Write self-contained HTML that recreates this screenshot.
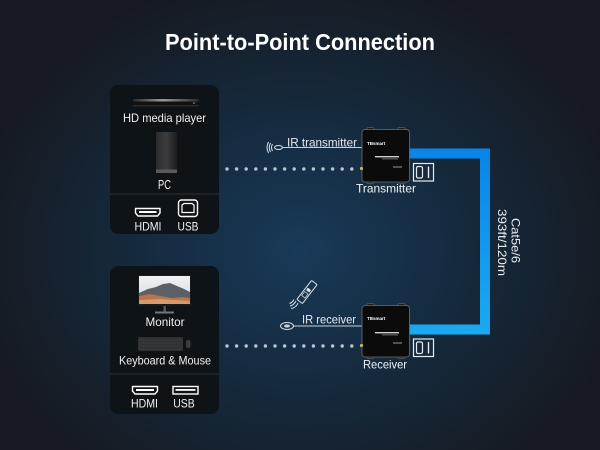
<!DOCTYPE html>
<html><head><meta charset="utf-8"><style>
html,body{margin:0;padding:0;background:#161a20;}
svg{display:block;}
text{font-family:"Liberation Sans",sans-serif;}
</style></head><body>
<svg width="600" height="450" viewBox="0 0 600 450" xmlns="http://www.w3.org/2000/svg">
<defs>
<radialGradient id="bg" cx="300" cy="250" r="330" gradientUnits="userSpaceOnUse" gradientTransform="translate(300 250) scale(1 0.85) translate(-300 -250)">
<stop offset="0" stop-color="#183a58"/>
<stop offset="0.45" stop-color="#152b40"/>
<stop offset="1" stop-color="#161a20"/>
</radialGradient>
<linearGradient id="cab" x1="0" y1="148" x2="0" y2="335" gradientUnits="userSpaceOnUse">
<stop offset="0" stop-color="#0a84e8"/>
<stop offset="1" stop-color="#1aaaf0"/>
</linearGradient>
<linearGradient id="player" x1="0" y1="0" x2="1" y2="0">
<stop offset="0" stop-color="#2a2a2a"/>
<stop offset="0.45" stop-color="#9a9a9a"/>
<stop offset="1" stop-color="#2a2a2a"/>
</linearGradient>
<linearGradient id="pc" x1="0" y1="0" x2="1" y2="0">
<stop offset="0" stop-color="#2c2c2e"/>
<stop offset="0.5" stop-color="#3c3c3e"/>
<stop offset="1" stop-color="#1c1c1e"/>
</linearGradient>
<linearGradient id="sky" x1="0" y1="0" x2="0" y2="1">
<stop offset="0" stop-color="#eef2f5"/>
<stop offset="1" stop-color="#d3dbe0"/>
</linearGradient>
</defs>
<rect width="600" height="450" fill="url(#bg)"/>

<!-- Title -->
<text x="300" y="50" text-anchor="middle" font-size="23.5" font-weight="bold" fill="#ffffff" textLength="270" lengthAdjust="spacingAndGlyphs">Point-to-Point Connection</text>

<!-- Top panel -->
<rect x="110" y="85" width="109" height="149" rx="8" fill="#0e1318"/>
<line x1="110" y1="194" x2="219" y2="194" stroke="#2a3038" stroke-width="1"/>
<!-- HD player -->
<rect x="133" y="99" width="66" height="8" rx="1" fill="#111"/>
<rect x="133" y="99" width="66" height="2.5" fill="url(#player)"/>
<rect x="133" y="105" width="66" height="1.5" fill="#2a2a2a"/>
<circle cx="194" cy="103" r="0.8" fill="#aaa"/>
<text x="164.5" y="122" text-anchor="middle" font-size="12" fill="#f0f0f0" textLength="83" lengthAdjust="spacingAndGlyphs">HD media player</text>
<!-- PC tower -->
<rect x="156" y="132" width="21" height="41" rx="1" fill="url(#pc)"/>
<rect x="156" y="169.5" width="21" height="3.5" fill="#5a5a5c"/>
<text x="164.5" y="189" text-anchor="middle" font-size="12.5" fill="#f0f0f0" textLength="13" lengthAdjust="spacingAndGlyphs">PC</text>
<!-- HDMI icon top -->
<path d="M135.5 208.5 H160 V213 L157.5 216 H138 L135.5 213 Z" fill="none" stroke="#fff" stroke-width="1.4" stroke-linejoin="round"/>
<rect x="139" y="211" width="17.5" height="2" fill="#fff"/>
<!-- USB-B icon -->
<rect x="178.5" y="200" width="19" height="16.5" rx="3" fill="none" stroke="#fff" stroke-width="1.4"/>
<path d="M182 205 L184 203.5 H192 L194 205 V212.5 H182 Z" fill="none" stroke="#fff" stroke-width="1.2"/>
<text x="148" y="230.5" text-anchor="middle" font-size="12" fill="#f0f0f0" textLength="27" lengthAdjust="spacingAndGlyphs">HDMI</text>
<text x="188" y="230.5" text-anchor="middle" font-size="12" fill="#f0f0f0" textLength="21" lengthAdjust="spacingAndGlyphs">USB</text>

<!-- Bottom panel -->
<rect x="110" y="266" width="109" height="148" rx="8" fill="#0e1318"/>
<line x1="110" y1="374" x2="219" y2="374" stroke="#2a3038" stroke-width="1"/>
<!-- Monitor -->
<rect x="138" y="275" width="53" height="31" fill="#1a1a1a"/>
<rect x="139" y="276" width="51" height="28" fill="url(#sky)"/>
<path d="M139 293 L148 289 L156 287 L163 284 L170 283 L177 286 L184 289 L190 292 V304 H139 Z" fill="#5c5f66"/>
<path d="M139 296 L150 294 L160 296 L172 298 L182 297 L190 298 V304 H139 Z" fill="#b8744a"/>
<path d="M139 300 L160 299 L190 301 V304 H139 Z" fill="#d59b6e"/>
<rect x="163.5" y="306" width="2.5" height="6" fill="#555"/>
<rect x="155" y="311.5" width="19" height="2" fill="#777"/>
<text x="165" y="326" text-anchor="middle" font-size="12" fill="#f0f0f0" textLength="39" lengthAdjust="spacingAndGlyphs">Monitor</text>
<!-- Keyboard -->
<rect x="138" y="337" width="45" height="14" rx="1.5" fill="#2e3034"/>
<g stroke="#55585e" stroke-width="0.6">
<line x1="139" y1="340" x2="182" y2="340" stroke-dasharray="1.2 0.8"/>
<line x1="139" y1="343" x2="182" y2="343" stroke-dasharray="1.2 0.8"/>
<line x1="139" y1="346" x2="182" y2="346" stroke-dasharray="1.2 0.8"/>
<line x1="139" y1="349" x2="182" y2="349" stroke-dasharray="1.2 0.8"/>
</g>
<rect x="186" y="340" width="4.5" height="8" rx="2" fill="#3a3c40"/>
<text x="165" y="364.5" text-anchor="middle" font-size="12" fill="#f0f0f0" textLength="92" lengthAdjust="spacingAndGlyphs">Keyboard &amp; Mouse</text>
<!-- HDMI bottom -->
<path d="M132.5 386.5 H157.5 V391 L155 394 H135 L132.5 391 Z" fill="none" stroke="#fff" stroke-width="1.4" stroke-linejoin="round"/>
<rect x="136" y="389" width="18" height="2" fill="#fff"/>
<!-- USB-A -->
<rect x="173" y="386.5" width="25" height="7.5" fill="none" stroke="#fff" stroke-width="1.4"/>
<rect x="175.5" y="389" width="20" height="1.8" fill="#fff"/>
<text x="144.5" y="407.5" text-anchor="middle" font-size="12" fill="#f0f0f0" textLength="27" lengthAdjust="spacingAndGlyphs">HDMI</text>
<text x="184" y="407.5" text-anchor="middle" font-size="12" fill="#f0f0f0" textLength="21.5" lengthAdjust="spacingAndGlyphs">USB</text>

<!-- Blue cable -->
<path d="M409 153.5 H485 V329.5 H409" fill="none" stroke="url(#cab)" stroke-width="10" stroke-linejoin="miter"/>
<text transform="translate(511.5 240.5) rotate(90)" text-anchor="middle" font-size="12" fill="#e8ecf0" textLength="45" lengthAdjust="spacingAndGlyphs">Cat5e/6</text>
<text transform="translate(498 242.5) rotate(90)" text-anchor="middle" font-size="12" fill="#e8ecf0" textLength="67" lengthAdjust="spacingAndGlyphs">393ft/120m</text>

<!-- Dotted lines -->
<g fill="#b9c4cf">
<circle cx="227" cy="169" r="1.7"/><circle cx="236.6" cy="169" r="1.7"/><circle cx="246.2" cy="169" r="1.7"/><circle cx="255.8" cy="169" r="1.7"/><circle cx="265.4" cy="169" r="1.7"/><circle cx="275" cy="169" r="1.7"/><circle cx="284.6" cy="169" r="1.7"/><circle cx="294.2" cy="169" r="1.7"/><circle cx="303.8" cy="169" r="1.7"/><circle cx="313.4" cy="169" r="1.7"/><circle cx="323" cy="169" r="1.7"/><circle cx="332.6" cy="169" r="1.7"/><circle cx="342.2" cy="169" r="1.7"/><circle cx="351.8" cy="169" r="1.7"/>
<circle cx="227" cy="346" r="1.7"/><circle cx="236.6" cy="346" r="1.7"/><circle cx="246.2" cy="346" r="1.7"/><circle cx="255.8" cy="346" r="1.7"/><circle cx="265.4" cy="346" r="1.7"/><circle cx="275" cy="346" r="1.7"/><circle cx="284.6" cy="346" r="1.7"/><circle cx="294.2" cy="346" r="1.7"/><circle cx="303.8" cy="346" r="1.7"/><circle cx="313.4" cy="346" r="1.7"/><circle cx="323" cy="346" r="1.7"/><circle cx="332.6" cy="346" r="1.7"/><circle cx="342.2" cy="346" r="1.7"/><circle cx="351.8" cy="346" r="1.7"/>
</g>

<!-- IR transmitter -->
<line x1="283" y1="147.5" x2="362" y2="147.5" stroke="#c8d0d8" stroke-width="1"/>
<ellipse cx="278.5" cy="147.5" rx="4" ry="2" fill="none" stroke="#d8dee4" stroke-width="1"/>
<path d="M272.5 144 Q270.5 147.5 272.5 151" fill="none" stroke="#e0e4e8" stroke-width="1"/>
<path d="M270.5 143 Q268 147.5 270.5 152" fill="none" stroke="#e0e4e8" stroke-width="1"/>
<path d="M268.5 142 Q265.5 147.5 268.5 153" fill="none" stroke="#e0e4e8" stroke-width="1"/>
<text x="322" y="146.5" text-anchor="middle" font-size="12" fill="#e6eaee" textLength="70" lengthAdjust="spacingAndGlyphs">IR transmitter</text>

<!-- IR receiver -->
<line x1="294" y1="326" x2="362" y2="326" stroke="#c8d0d8" stroke-width="1"/>
<ellipse cx="287" cy="326" rx="6.5" ry="3.5" fill="none" stroke="#d8dee4" stroke-width="1"/>
<ellipse cx="287" cy="326" rx="3" ry="1.6" fill="#c8d0d8"/>
<!-- remote -->
<g transform="translate(307 292) rotate(-52)">
<rect x="-12" y="-3.5" width="24" height="7" rx="1" fill="none" stroke="#dfe4e8" stroke-width="1"/>
<rect x="-6" y="-2" width="5" height="4" fill="none" stroke="#dfe4e8" stroke-width="0.7"/>
<rect x="1" y="-2" width="3" height="4" fill="#dfe4e8"/>
</g>
<path d="M296 301 Q294 305 290 306" fill="none" stroke="#e0e4e8" stroke-width="1"/>
<path d="M298 303 Q296 308 291 308.5" fill="none" stroke="#e0e4e8" stroke-width="1"/>
<path d="M294 299.5 Q292.5 302.5 289.5 303.5" fill="none" stroke="#e0e4e8" stroke-width="1"/>
<text x="329" y="323.5" text-anchor="middle" font-size="12" fill="#e6eaee" textLength="54" lengthAdjust="spacingAndGlyphs">IR receiver</text>

<!-- Transmitter device -->
<g>
<rect x="367" y="127.5" width="7" height="3" rx="1" fill="#1a1a1a" stroke="#777" stroke-width="0.5"/>
<rect x="398" y="127.5" width="7" height="3" rx="1" fill="#1a1a1a" stroke="#777" stroke-width="0.5"/>
<rect x="367" y="181" width="7" height="2.5" rx="1" fill="#1a1a1a" stroke="#777" stroke-width="0.5"/>
<rect x="398" y="181" width="7" height="2.5" rx="1" fill="#1a1a1a" stroke="#777" stroke-width="0.5"/>
<rect x="362" y="129.5" width="47.5" height="52.5" rx="3" fill="#0b0b0c" stroke="#6e6e6e" stroke-width="0.8"/>
<text x="367" y="145" font-size="4.5" font-weight="bold" fill="#fff">TBsmart</text>
<rect x="375" y="156" width="24" height="1.4" fill="#cfcfcf"/>
<rect x="382" y="158.5" width="16" height="0.8" fill="#888"/>
<rect x="393" y="166.5" width="9" height="1" fill="#999"/>
<circle cx="361.5" cy="168.5" r="1.6" fill="#c8b84a"/>
</g>
<text x="386" y="192.5" text-anchor="middle" font-size="12" fill="#f0f0f0" textLength="60" lengthAdjust="spacingAndGlyphs">Transmitter</text>
<!-- port icon top -->
<rect x="413.5" y="163.5" width="20" height="17.5" fill="none" stroke="#e8ecf0" stroke-width="1.2"/>
<rect x="416.5" y="166.5" width="6" height="11.5" rx="1.5" fill="none" stroke="#e8ecf0" stroke-width="1.2"/>
<line x1="428.5" y1="166.5" x2="428.5" y2="178" stroke="#e8ecf0" stroke-width="1.4"/>

<!-- Receiver device -->
<g>
<rect x="367" y="303.5" width="7" height="3" rx="1" fill="#1a1a1a" stroke="#777" stroke-width="0.5"/>
<rect x="398" y="303.5" width="7" height="3" rx="1" fill="#1a1a1a" stroke="#777" stroke-width="0.5"/>
<rect x="367" y="356" width="7" height="2.5" rx="1" fill="#1a1a1a" stroke="#777" stroke-width="0.5"/>
<rect x="398" y="356" width="7" height="2.5" rx="1" fill="#1a1a1a" stroke="#777" stroke-width="0.5"/>
<rect x="362" y="305.5" width="47.5" height="51.5" rx="3" fill="#0b0b0c" stroke="#6e6e6e" stroke-width="0.8"/>
<text x="367" y="320" font-size="4.5" font-weight="bold" fill="#fff">TBsmart</text>
<rect x="375" y="332" width="24" height="1.4" fill="#cfcfcf"/>
<rect x="382" y="334.5" width="16" height="0.8" fill="#888"/>
<rect x="393" y="342.5" width="9" height="1" fill="#999"/>
<circle cx="361.5" cy="345.5" r="1.6" fill="#c8b84a"/>
</g>
<text x="385" y="368.5" text-anchor="middle" font-size="12" fill="#f0f0f0" textLength="44" lengthAdjust="spacingAndGlyphs">Receiver</text>
<!-- port icon bottom -->
<rect x="413.5" y="339" width="20" height="17.5" fill="none" stroke="#e8ecf0" stroke-width="1.2"/>
<rect x="416.5" y="342" width="6" height="11.5" rx="1.5" fill="none" stroke="#e8ecf0" stroke-width="1.2"/>
<line x1="428.5" y1="342" x2="428.5" y2="353.5" stroke="#e8ecf0" stroke-width="1.4"/>
</svg>
</body></html>
